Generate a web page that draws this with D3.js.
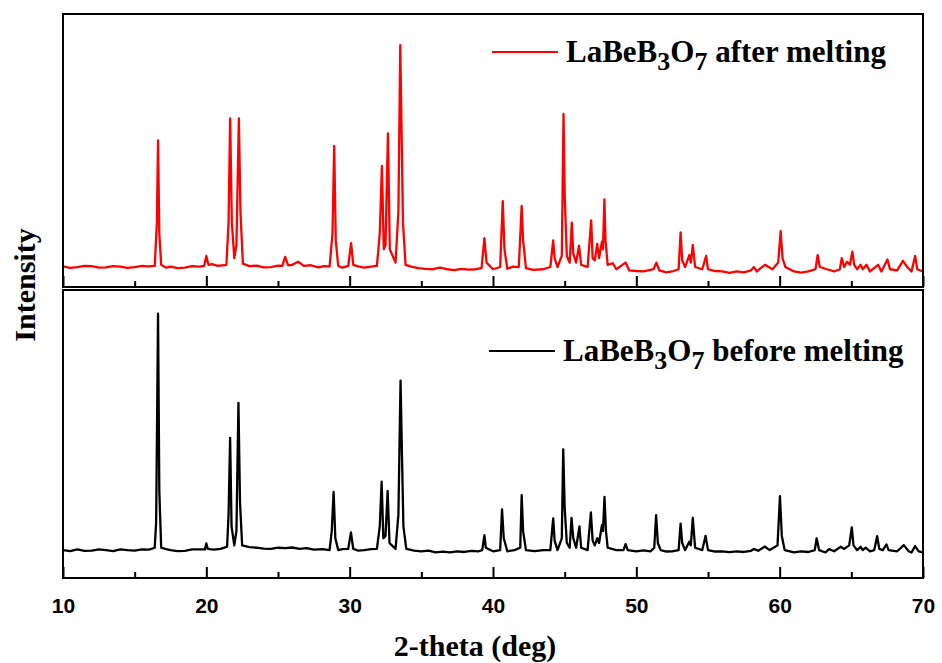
<!DOCTYPE html>
<html>
<head>
<meta charset="utf-8">
<script src="https://cdn.jsdelivr.net/npm/d3@7"></script>
<style>
  html, body { margin: 0; padding: 0; background: #fff; }
  svg { display: block; }
</style>
</head>
<body>
<svg id="svg" width="942" height="663"></svg>
<script>
// x range and ticks
var xDomain = [10, 70];
var majorTicks = [10, 20, 30, 40, 50, 60, 70];
var minorTicks = [15, 25, 35, 45, 55, 65];

// legend labels (formula split for subscripts)
var formulaParts = [["LaBeB", false], ["3", true], ["O", false], ["7", true]];
var labelAfter = " after melting";
var labelBefore = " before melting";

// LaBeB3O7 after melting, [2theta, intensity]
var afterMelting = [
  [10,0.3],[10.5,-0.4],[11,0],[11.5,0.5],[12,0.4],[12.5,-0.3],[13,-0.2],[13.5,0.4],[14,0.2],[14.5,-0.4],[15,0],[15.5,0.5],
  [16,0.3],[16.4,0.5],[16.55,20],[16.63,57],[16.72,15],[16.85,1],
  [17.2,-0.3],[17.5,0.2],[18,-0.5],[18.5,-0.3],[19,0.4],[19.5,0.2],[19.85,0.5],[20.0,5],[20.15,1],[20.4,1.3],[20.8,0.5],
  [21.4,1],[21.55,20],[21.66,67],[21.78,20],
  [21.95,4],[22.1,10],[22.27,67],[22.38,25],[22.55,1.5],[23,0.4],[23.5,0.6],[24,-0.2],[24.5,0],[25,0.6],[25.3,0.5],
  [25.5,4.6],[25.7,0.8],[26.0,1],
  [26.4,2.4],[26.8,0.5],[27.3,0.8],[27.8,-0.2],[28.2,0.4],[28.6,0.3],[28.8,15],[28.92,54.6],[29.03,12],[29.2,0.5],
  [29.5,-0.3],[29.9,0.5],[30.1,10.8],
  [30.25,1],[30.6,0.3],[31,-0.3],[31.5,0.2],[31.9,0.5],[32.1,15],[32.25,45.6],[32.38,8],[32.5,10],[32.67,60.2],[32.8,8],
  [33.2,2],[33.4,25],
  [33.53,100],[33.62,62],[33.72,20],[33.9,1],[34.3,0.2],[34.8,-0.5],[35.3,-0.8],[35.8,-1],[36.3,-0.3],[36.8,-1],
  [37.3,-1.4],[37.8,-0.8],[38.3,-1.2],[38.8,-1],[39.2,-0.5],
  [39.4,13],[39.55,2],[40,-1],[40.5,0],[40.68,29.7],[40.8,8],[41,-0.8],[41.4,0.2],[41.8,0],[42.0,27.5],[42.1,12],[42.3,-0.5],
  [42.8,-1.3],[43.5,-1],[44.0,0],[44.2,12],[44.3,4],[44.5,0],[44.8,5],[44.92,69],[45.0,33],[45.15,5],[45.35,2],[45.5,20],[45.6,6],
  [45.8,2],[46.0,9.6],[46.15,1],[46.6,0],[46.85,21],[46.95,4],[47.1,3],[47.27,10.4],[47.4,4],[47.6,11.4],[47.67,8],
  [47.77,30.5],[47.85,12],[48.0,1],[48.36,1.7],[48.6,-1],[49.25,2],[49.5,-1.5],[50,-1.8],[50.5,-2],[50.9,-1.4],[51.2,-1],
  [51.4,2],[51.6,-1.5],
  [52.1,-2.4],[52.5,-2],[52.95,-1],[53.09,15.6],[53.2,3],[53.4,0],[53.7,5.4],[53.8,2],[53.94,10],[54.1,0],[54.6,-1],[54.87,5],
  [55.0,-1],[55.5,-1.8],[56,-2],[56.5,-2.6],[57,-2],[57.5,-2.4],[58,-1.5],[58.2,0],[58.4,-2],[58.97,1],[59.5,-1],[59.9,2],
  [60.07,16.2],[60.2,4],[60.4,0],
  [61,-2],[61.5,-2.5],[62,-2],[62.5,-1],[62.65,5.4],[62.8,0],[63.3,-1],[63.8,-2],[64.2,-1],[64.33,4],[64.5,0],[64.7,2.4],[64.9,1],
  [65.07,6.9],[65.2,1],[65.4,-1],[65.65,1],[65.8,-1],[66.06,1],[66.3,-2],[66.87,1],[67.1,-2],[67.52,3.4],[67.7,-1],
  [68.2,-1.5],[68.6,2.8],[68.9,0],[69.2,-2],[69.45,5],[69.6,-1],[70,-2]
];

// LaBeB3O7 before melting
var beforeMelting = [
  [10,0],[10.5,-0.4],[11,0.3],[11.5,-0.3],[12,-0.2],[12.5,0.3],[13,0],[13.5,-0.4],[14,0.3],[14.5,0],[15,-0.2],[15.5,0.3],
  [16,0.2],[16.4,1],[16.5,12],[16.63,100],[16.72,25],[16.85,1],
  [17.2,0.4],[17.5,0],[18,-0.4],[18.5,-0.3],[19,0.3],[19.5,0.3],[19.9,0.3],[20.0,2.8],[20.1,0.5],[20.5,0.2],[21,0.5],
  [21.45,1.5],[21.55,15],[21.66,47.5],
  [21.76,10],[21.95,2],[22.1,8],[22.24,62.3],[22.35,20],[22.5,2],[23,1.3],[23.5,1],[24,0.6],[24.5,0.5],[25,1],[25.5,0.8],
  [26,1.1],[26.5,0.5],[27,0.8],[27.5,0.2],
  [28.1,0.4],[28.6,0],[28.75,8],[28.88,24.6],[29.0,5],[29.2,0],[29.5,0.4],[29.9,0.5],[30.09,7.5],[30.25,0.5],[30.6,-0.2],
  [31,0],[31.5,0.4],[31.9,0.5],[32.1,10],
  [32.23,29],[32.35,5],[32.5,6],[32.65,25],[32.78,3],[33.2,0.5],[33.4,15],[33.55,71.7],[33.65,40],[33.75,10],
  [33.95,0.5],[34.5,-0.2],[35,-0.5],[35.5,-0.2],[36,-1],[36.5,-0.6],[37,-1],[37.5,-0.5],[38,-0.8],[38.5,-0.3],[39,-0.5],
  [39.25,0],[39.4,6.3],[39.5,1],[40,-0.5],[40.5,0],
  [40.63,17.2],[40.75,5],[41,-0.5],[41.5,0],[41.9,1],[42.0,23.2],[42.1,8],[42.3,0],[42.9,-0.4],[43.5,0],[44.0,0],[44.2,13.4],
  [44.3,4],[44.5,0],[44.8,5],[44.9,42.6],[45.0,18],[45.15,3],[45.35,1],[45.48,13.6],[45.6,5],[45.8,1],[46.03,10],
  [46.15,1],[46.6,0],[46.83,15.9],[46.95,4],[47.1,2],[47.27,5],[47.4,3],[47.6,10.5],[47.67,8],[47.78,22.5],[47.88,8],
  [48.0,1],[48.3,0.5],[48.6,0],[49.1,0],[49.25,2.5],[49.4,0],[50,-0.5],[50.5,-0.1],[51,-0.5],[51.25,1],[51.38,14.8],[51.5,3],
  [51.7,0],[52.1,-0.6],[52.5,-0.5],[52.95,0],[53.09,11.2],[53.2,3],[53.4,0],[53.7,3.5],[53.8,2],[53.94,13.6],[54.1,1],[54.6,0],
  [54.83,6],[55.0,0],[55.5,-0.6],[56,-0.5],[56.5,-0.9],[57,-0.5],[57.5,-0.8],[58,-0.3],[58.2,0.5],[58.5,-0.3],[58.96,1.5],
  [59.3,0],[59.85,2],[60.02,22.8],
  [60.15,6],[60.35,0],[61,-1],[61.5,-0.5],[62,-0.8],[62.45,0],[62.58,5],[62.75,0],[63.2,-1],[63.45,0.4],[63.8,-0.5],[64.26,1.4],
  [64.5,0.5],[64.85,2],[65.03,9.6],[65.15,2],[65.4,0],[65.65,1.4],[65.8,0],[66.0,1],[66.3,-0.5],[66.6,0],[66.8,5.9],
  [66.95,0.5],[67.2,0],[67.45,2.4],[67.6,0],[68.2,-0.5],[68.66,2.1],[69.0,-0.5],[69.2,-1],[69.45,1.7],[69.7,-0.5],[70,-1]
];

var svg = d3.select("#svg");
var left = 63, right = 923;
var serif = "'Liberation Serif', 'Times New Roman', serif";

var x = d3.scaleLinear().domain(xDomain).range([left, right]);

// two stacked panels, each with its own intensity scale
var panels = [
  { id: "top", y0: 14, y1: 287, domain: [-9, 114], data: afterMelting, color: "#ff0000",
    label: labelAfter, legX: 492, legY: 52, labels: false },
  { id: "bot", y0: 290, y1: 578, domain: [-11.8, 110], data: beforeMelting, color: "#000000",
    label: labelBefore, legX: 489, legY: 351, labels: true }
];

panels.forEach(function(p) {
  var y = d3.scaleLinear().domain(p.domain).range([p.y1, p.y0]);

  svg.append("clipPath").attr("id", "clip-" + p.id)
    .append("rect").attr("x", left).attr("y", p.y0).attr("width", right - left).attr("height", p.y1 - p.y0);

  var line = d3.line()
    .x(function(d) { return x(d[0]); })
    .y(function(d) { return y(d[1]); });

  svg.append("path")
    .datum(p.data)
    .attr("clip-path", "url(#clip-" + p.id + ")")
    .attr("d", line)
    .attr("fill", "none")
    .attr("stroke", p.color)
    .attr("stroke-width", 2.3)
    .attr("stroke-linejoin", "round");

  // ticks point inward from the bottom edge
  var major = svg.append("g")
    .attr("transform", "translate(0," + p.y1 + ")")
    .call(d3.axisBottom(x).tickValues(majorTicks).tickSize(-11)
      .tickFormat(p.labels ? d3.format("d") : function() { return ""; }));
  var minor = svg.append("g")
    .attr("transform", "translate(0," + p.y1 + ")")
    .call(d3.axisBottom(x).tickValues(minorTicks).tickSize(-6).tickFormat(function() { return ""; }));
  [major, minor].forEach(function(g) {
    g.select(".domain").remove();
    g.selectAll(".tick line").attr("stroke", "#000").attr("stroke-width", 2);
  });
  major.selectAll(".tick text")
    .attr("fill", "#000")
    .attr("dy", null)
    .attr("y", 35)
    .style("font-family", "'Liberation Sans', Arial, sans-serif")
    .style("font-weight", "bold")
    .style("font-size", "21px");

  svg.append("rect")
    .attr("x", left).attr("y", p.y0)
    .attr("width", right - left).attr("height", p.y1 - p.y0)
    .attr("fill", "none").attr("stroke", "#000").attr("stroke-width", 2);

  // legend
  svg.append("line")
    .attr("x1", p.legX).attr("x2", p.legX + 66)
    .attr("y1", p.legY).attr("y2", p.legY)
    .attr("stroke", p.color).attr("stroke-width", 2);
  var t = svg.append("text")
    .attr("x", p.legX + 74).attr("y", p.legY + 10)
    .style("font-family", serif)
    .style("font-weight", "bold")
    .style("font-size", "31px")
    .attr("fill", "#000");
  var shift = 0;
  formulaParts.forEach(function(part) {
    var dy = part[1] ? 8 - shift : -shift;
    shift += dy;
    t.append("tspan").attr("dy", dy).style("font-size", part[1] ? "26px" : "31px").text(part[0]);
  });
  t.append("tspan").attr("dy", -shift).text(p.label);
});

svg.append("text")
  .attr("x", 475).attr("y", 656)
  .attr("text-anchor", "middle")
  .style("font-family", serif)
  .style("font-weight", "bold")
  .style("font-size", "30px")
  .text("2-theta (deg)");

svg.append("text")
  .attr("transform", "translate(35,285) rotate(-90)")
  .attr("text-anchor", "middle")
  .style("font-family", serif)
  .style("font-weight", "bold")
  .style("font-size", "30px")
  .text("Intensity");
</script>
</body>
</html>
